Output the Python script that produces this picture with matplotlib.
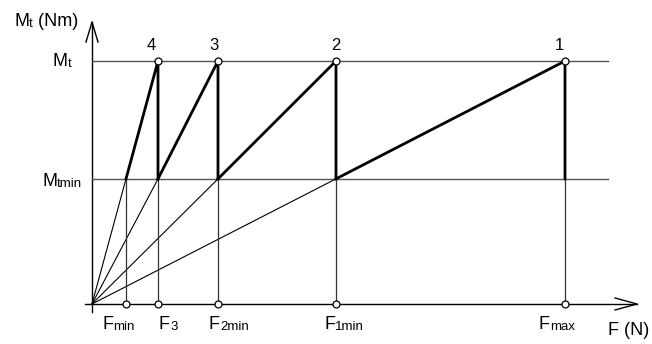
import matplotlib
matplotlib.use("Agg")
from matplotlib import pyplot as plt

plt.rcParams['font.family'] = ['Liberation Sans', 'DejaVu Sans']

# torque levels (Mt = 1) and force stages
mt_max = 1.0
mt_min = 0.515
forces = [34, 66, 126, 244, 473]          # Fmin, F3, F2min, F1min, Fmax
force_names = ['F', 'F', 'F', 'F', 'F']
force_subs = ['min', '3', '2min', '1min', 'max']
stage_labels = ['4', '3', '2', '1']

fig = plt.figure(figsize=(6.52, 3.44), dpi=100)
ax = fig.add_axes([0, 0, 1, 1])
ax.set_xlim(-92, 560)
ax.set_ylim(-40 / 243, 304 / 243)
ax.axis('off')

py = 1.0 / 243      # one pixel in y


def label(x, y, main, sub='', tail='', size=13, subsize=9.5):
    # big letter with a small index sitting on the same baseline
    t = ax.text(x, y, main, ha='left', va='baseline', fontsize=size)
    s = ax.annotate(sub, xy=(1, 0), xycoords=t, ha='left', va='bottom',
                    fontsize=subsize)
    if tail:
        ax.annotate(tail, xy=(1, 0), xycoords=s, ha='left', va='bottom',
                    fontsize=size)


# axes with open arrow heads
ax.plot([-7, 545], [0, 0], color='black', lw=1.0)
ax.plot([0, 0], [-8 * py, mt_max + 39 * py], color='black', lw=1.0)
ax.plot([523, 545, 523], [6 * py, 0, -6 * py], color='black', lw=1.0)
ax.plot([-6, 0, 6], [mt_max + 19 * py, mt_max + 39 * py, mt_max + 19 * py],
        color='black', lw=1.0)

# torque levels
ax.plot([0, 516], [mt_max, mt_max], color='#555555', lw=1.0)
ax.plot([0, 516], [mt_min, mt_min], color='#555555', lw=1.0)

# thin rays from origin and thin verticals up to Mtmin
for f in forces[:-1]:
    ax.plot([0, f], [0, mt_min], color='black', lw=0.8)
for f in forces:
    ax.plot([f, f], [0, mt_min], color='#333333', lw=0.9)

# thick working lines: ray continuation then drop at the next stage
for f0, f1 in zip(forces[:-1], forces[1:]):
    ax.plot([f0, f1, f1], [mt_min, mt_max, mt_min], color='black', lw=2.0,
            solid_joinstyle='miter')

# small circles
ax.plot(forces, [0] * len(forces), 'o', ms=5, mfc='white', mec='black',
        mew=0.9, zorder=5)
ax.plot(forces[1:], [mt_max] * 4, 'o', ms=5, mfc='white', mec='black',
        mew=0.9, zorder=5)

# stage numbers above the top circles
for f, s, dx in zip(forces[1:], stage_labels, [-7, -4, 0, -6]):
    ax.text(f + dx, mt_max + 15 * py, s, ha='center', va='center', fontsize=12)

# force labels under the x axis
for f, n, s, dx in zip(forces, force_names, force_subs, [-24, 1, -9, -12, -26]):
    label(f + dx, -25 * py, n, s)

label(-39, 238 * py, 'M', 't')
label(-50, 118 * py, 'M', 'tmin')
label(-78, 278 * py, 'M', 't', ' (Nm)')
ax.text(516, -31 * py, 'F (N)', ha='left', va='baseline', fontsize=13)

fig.savefig('out.png', dpi=100)
